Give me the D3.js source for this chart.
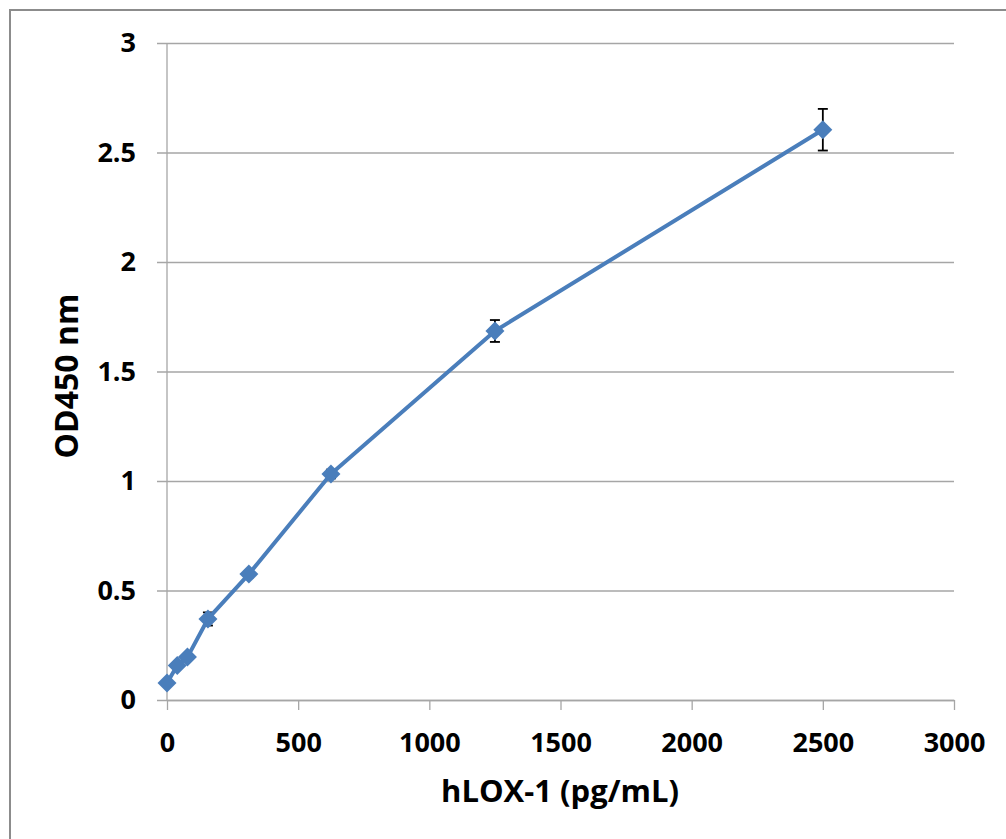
<!DOCTYPE html>
<html>
<head>
<meta charset="utf-8">
<script src="https://cdn.jsdelivr.net/npm/d3@7"></script>
<style>
body{margin:0;background:#fff;}
svg text{font-family:"Open Sans","Noto Sans",sans-serif;font-weight:bold;fill:#000;}
</style>
</head>
<body>
<div class="chart"></div>
<script>
// standard curve data
const conc = [0, 39, 78, 156, 312, 625, 1250, 2500];
const od = [0.078, 0.158, 0.196, 0.37, 0.575, 1.032, 1.685, 2.604];
const err = [0.01, 0.01, 0.01, 0.03, 0.015, 0.02, 0.05, 0.095];
const xTicks = [0, 500, 1000, 1500, 2000, 2500, 3000];
const yTicks = [0, 0.5, 1, 1.5, 2, 2.5, 3];

const W = 1006, H = 839;
const margin = {top:43, right:52, bottom:139, left:167};
const cw = W - margin.left - margin.right;
const ch = H - margin.top - margin.bottom;

const svg = d3.select('.chart').append('svg').attr('width',W).attr('height',H);

// outer frame
svg.append('rect').attr('x',10).attr('y',10).attr('width',W).attr('height',H)
   .style('fill','none').style('stroke','#8c8c8c').style('stroke-width',2);

const g = svg.append('g').attr('transform',`translate(${margin.left},${margin.top})`);

const xScale = d3.scaleLinear().domain([0,3000]).range([0,cw]);
const yScale = d3.scaleLinear().domain([0,3]).range([ch,0]);

// gridlines + y axis
const yAxis = d3.axisLeft(yScale).tickValues(yTicks).tickFormat(d=>d)
                .tickSizeInner(-cw).tickSizeOuter(0).tickPadding(31);
const yAxisDraw = g.append('g').call(yAxis);
yAxisDraw.select('.domain').remove();
yAxisDraw.selectAll('.tick line').attr('x1',-10).style('stroke','#a6a6a6').style('stroke-width',1.3);
yAxisDraw.selectAll('text').style('font-size','27px');

// y axis line
g.append('line').attr('x1',0).attr('x2',0).attr('y1',0).attr('y2',ch)
 .style('stroke','#a6a6a6').style('stroke-width',1.3);

const xAxis = d3.axisBottom(xScale).tickValues(xTicks).tickFormat(d=>d)
                .tickSizeInner(10).tickSizeOuter(0).tickPadding(23);
const xAxisDraw = g.append('g').attr('transform',`translate(0,${ch})`).call(xAxis);
xAxisDraw.selectAll('.domain, .tick line').style('stroke','#a6a6a6').style('stroke-width',1.3);
xAxisDraw.selectAll('text').style('font-size','27px');

// axis titles
svg.append('text').attr('x',560).attr('y',802)
   .attr('text-anchor','middle').style('font-size','31px').text('hLOX-1 (pg/mL)');
svg.append('text').attr('transform',`translate(78,376) rotate(-90)`)
   .attr('text-anchor','middle').style('font-size','32px').text('OD450 nm');

const data = conc.map((c,i)=>({x:c, y:od[i], e:err[i]}));

// error bars
const eb = g.selectAll('.err').data(data).enter().append('g').attr('class','err');
eb.append('line').attr('x1',d=>xScale(d.x)).attr('x2',d=>xScale(d.x))
  .attr('y1',d=>yScale(d.y+d.e)).attr('y2',d=>yScale(d.y-d.e));
eb.append('line').attr('x1',d=>xScale(d.x)-5).attr('x2',d=>xScale(d.x)+5)
  .attr('y1',d=>yScale(d.y+d.e)).attr('y2',d=>yScale(d.y+d.e));
eb.append('line').attr('x1',d=>xScale(d.x)-5).attr('x2',d=>xScale(d.x)+5)
  .attr('y1',d=>yScale(d.y-d.e)).attr('y2',d=>yScale(d.y-d.e));
eb.selectAll('line').style('stroke','#000').style('stroke-width',1.8);

// line
const line = d3.line().x(d=>xScale(d.x)).y(d=>yScale(d.y));
g.append('path').datum(data).attr('d',line)
 .style('fill','none').style('stroke','#4a7ebb').style('stroke-width',4).style('stroke-linejoin','round');

// diamond markers
g.selectAll('.pt').data(data).enter().append('path').attr('class','pt')
 .attr('d',d3.symbol().type(d3.symbolDiamond2).size(230))
 .attr('transform',d=>`translate(${xScale(d.x)},${yScale(d.y)})`)
 .style('fill','#4a7ebb');
</script>
</body>
</html>
